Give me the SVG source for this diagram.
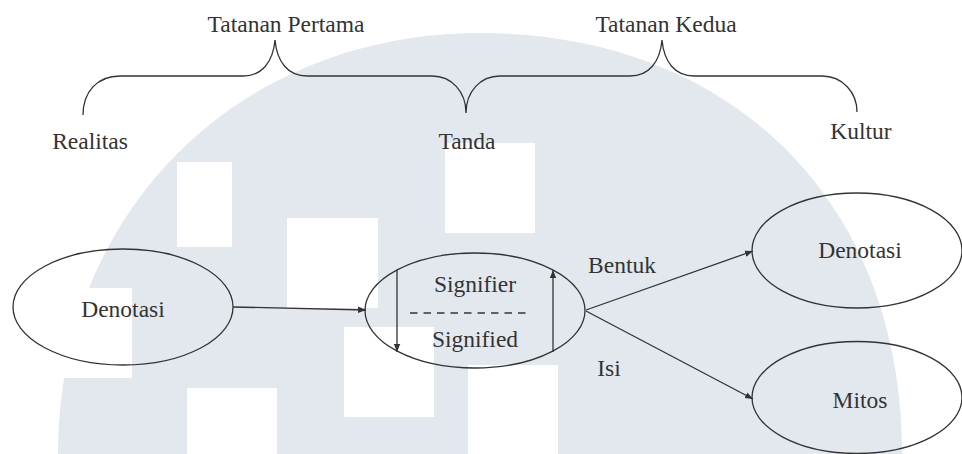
<svg xmlns="http://www.w3.org/2000/svg" width="962" height="454" viewBox="0 0 962 454">
<style>
.t{font-family:'Liberation Serif','Times New Roman',Times,'DejaVu Serif',serif;font-size:23.5px;fill:#333;text-anchor:middle}
.ln{fill:none;stroke:#333;stroke-width:1.3}
.el{fill:none;stroke:#333;stroke-width:1.3}
.wm{fill:#fff}
</style>
<defs>
<marker id="ah" viewBox="0 0 10 10" refX="10" refY="5" markerWidth="8" markerHeight="8" markerUnits="userSpaceOnUse" orient="auto">
<path d="M0,1 L10,5 L0,9 Z" fill="#333"/>
</marker>
</defs>
<rect width="962" height="454" fill="#fff"/>
<g id="watermark">
<path d="M58,454 C58,210 240,33 480,33 C730,33 902,200 902,454 Z" fill="#e3e8ee"/>
<rect class="wm" x="0" y="288" width="132" height="90"/>
<rect class="wm" x="177" y="162" width="55" height="85"/>
<rect class="wm" x="445" y="143" width="90" height="90"/>
<rect class="wm" x="287" y="218" width="91" height="90"/>
<rect class="wm" x="344" y="327" width="90" height="90"/>
<rect class="wm" x="468" y="365" width="90" height="90"/>
<rect class="wm" x="187" y="388" width="90" height="70"/>
</g>
<g id="braces">
<path class="ln" d="M83,115 C83,92 97,76 120,76 L243,76 C262,76 273,62 275,40 C277,62 288,76 307,76 L432,76 C452,76 466,92 466,113 C466,92 480,76 500,76 L630,76 C649,76 660,62 662,40 C664,62 675,76 694,76 L822,76 C842,76 857,92 857,112"/>
</g>
<g id="labels">
<text class="t" x="286" y="32" font-family="Liberation Serif, serif">Tatanan Pertama</text>
<text class="t" x="666" y="32" font-family="Liberation Serif, serif">Tatanan Kedua</text>
<text class="t" x="90" y="149" font-family="Liberation Serif, serif">Realitas</text>
<text class="t" x="467" y="149" font-family="Liberation Serif, serif">Tanda</text>
<text class="t" x="861" y="139" font-family="Liberation Serif, serif">Kultur</text>
<text class="t" x="622" y="273" font-family="Liberation Serif, serif">Bentuk</text>
<text class="t" x="609" y="376" font-family="Liberation Serif, serif">Isi</text>
</g>
<g id="node-denotasi1">
<ellipse class="el" cx="123" cy="307" rx="110" ry="58"/>
<text class="t" x="123" y="317" font-family="Liberation Serif, serif">Denotasi</text>
</g>
<g id="node-tanda">
<ellipse class="el" cx="475" cy="310.5" rx="110" ry="57.5"/>
<text class="t" x="475" y="292" font-family="Liberation Serif, serif">Signifier</text>
<text class="t" x="475" y="347" font-family="Liberation Serif, serif">Signified</text>
<line x1="410" y1="313" x2="528" y2="313" stroke="#333" stroke-width="1.3" stroke-dasharray="7.5 6"/>
<line class="ln" x1="397" y1="270" x2="397" y2="352" marker-end="url(#ah)"/>
<line class="ln" x1="553" y1="352" x2="553" y2="270" marker-end="url(#ah)"/>
</g>
<g id="node-denotasi2">
<ellipse class="el" cx="857" cy="250.5" rx="105" ry="57.5"/>
<text class="t" x="860" y="258" font-family="Liberation Serif, serif">Denotasi</text>
</g>
<g id="node-mitos">
<ellipse class="el" cx="857" cy="397.5" rx="105" ry="56"/>
<text class="t" x="860" y="408" font-family="Liberation Serif, serif">Mitos</text>
</g>
<g id="connectors">
<line class="ln" x1="233" y1="307" x2="366" y2="310" marker-end="url(#ah)"/>
<line class="ln" x1="586" y1="310" x2="753" y2="251" marker-end="url(#ah)"/>
<line class="ln" x1="586" y1="311" x2="753" y2="399" marker-end="url(#ah)"/>
</g>
</svg>
